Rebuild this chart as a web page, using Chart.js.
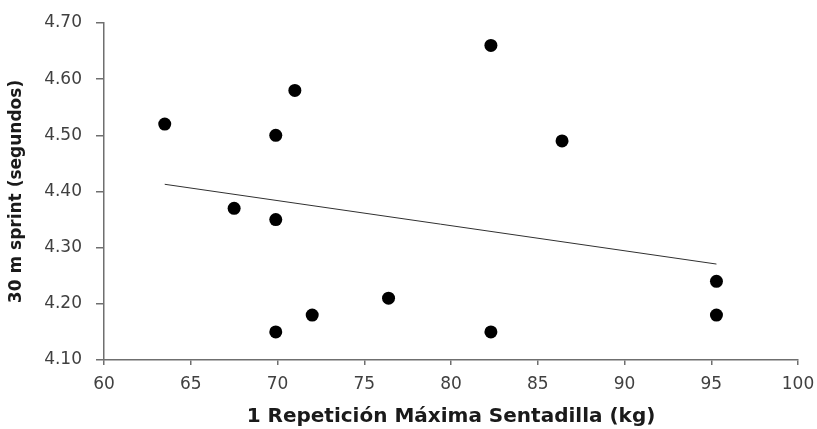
<!DOCTYPE html>
<html>
<head>
<meta charset="utf-8">
<script src="https://cdn.jsdelivr.net/npm/chart.js@4"></script>
<style>
  html, body { margin: 0; padding: 0; background: #fff; }
  #wrap { width: 817px; height: 429px; }
</style>
</head>
<body>
<div id="wrap"><canvas id="chart"></canvas></div>
<script>
// 1RM sentadilla (kg) vs 30 m sprint (s)
const squatKg = [63.5, 67.5, 69.9, 69.9, 69.9, 71.0, 72.0, 76.4, 82.3, 82.3, 86.4, 95.3, 95.3];
const sprintSec = [4.52, 4.37, 4.50, 4.35, 4.15, 4.58, 4.18, 4.21, 4.66, 4.15, 4.49, 4.24, 4.18];

const xTitle = "1 Repetición Máxima Sentadilla (kg)";
const yTitle = "30 m sprint (segundos)";

// linear trend line (least squares) through the points
function trend(xs, ys) {
  const n = xs.length;
  const mx = xs.reduce((a, b) => a + b, 0) / n;
  const my = ys.reduce((a, b) => a + b, 0) / n;
  let sxy = 0, sxx = 0;
  for (let i = 0; i < n; i++) {
    sxy += (xs[i] - mx) * (ys[i] - my);
    sxx += (xs[i] - mx) * (xs[i] - mx);
  }
  const b = sxy / sxx;
  const a = my - b * mx;
  const x0 = Math.min(...xs), x1 = Math.max(...xs);
  return [{ x: x0, y: a + b * x0 }, { x: x1, y: a + b * x1 }];
}

const points = squatKg.map((x, i) => ({ x: x, y: sprintSec[i] }));
const font = "'DejaVu Sans', Verdana, sans-serif";

new Chart(document.getElementById("chart").getContext("2d"), {
  type: "scatter",
  data: {
    datasets: [
      {
        data: points,
        backgroundColor: "#000",
        borderWidth: 0,
        pointRadius: 6.5,
        pointHoverRadius: 6.5
      },
      {
        data: trend(squatKg, sprintSec),
        showLine: true,
        borderColor: "#303030",
        borderWidth: 1,
        pointRadius: 0,
        fill: false
      }
    ]
  },
  options: {
    responsive: true,
    maintainAspectRatio: false,
    animation: false,
    layout: { padding: { top: 23, right: 19, left: 0, bottom: 0 } },
    plugins: { legend: { display: false }, tooltip: { enabled: false } },
    scales: {
      x: {
        type: "linear",
        min: 60, max: 100,
        afterFit: (s) => { s.height = 69; s.paddingLeft = 0; s.paddingRight = 0; },
        border: { display: true, color: "#6f6f6f", width: 1.5 },
        grid: { drawOnChartArea: false, drawTicks: true, tickLength: 5, color: "#6f6f6f", lineWidth: 1.5 },
        ticks: { stepSize: 5, color: "#404040", padding: 9, font: { family: font, size: 17 } },
        title: {
          display: true, text: xTitle, color: "#1a1a1a",
          padding: { top: 4, bottom: 0 },
          font: { family: font, size: 20, weight: "bold" }
        }
      },
      y: {
        type: "linear",
        min: 4.1, max: 4.7,
        afterFit: (s) => { s.width = 104; s.paddingTop = 0; s.paddingBottom = 0; },
        border: { display: true, color: "#6f6f6f", width: 1.5 },
        grid: { drawOnChartArea: false, drawTicks: true, tickLength: 8, color: "#6f6f6f", lineWidth: 1.5 },
        ticks: {
          stepSize: 0.1, color: "#404040", padding: 14,
          font: { family: font, size: 17 },
          callback: (v) => v.toFixed(2)
        },
        title: {
          display: true, text: yTitle, color: "#1a1a1a",
          padding: { top: 6, bottom: 0 },
          font: { family: font, size: 17, weight: "bold" }
        }
      }
    }
  }
});
</script>
</body>
</html>
